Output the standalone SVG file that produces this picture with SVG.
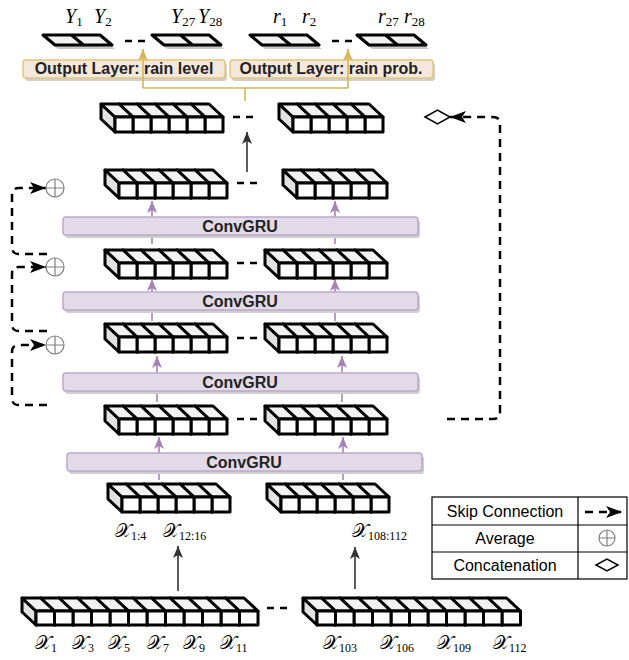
<svg xmlns="http://www.w3.org/2000/svg" width="629" height="660" viewBox="0 0 629 660">
<style>
.cs{fill:#e2e2e2;stroke:#000;stroke-width:3;stroke-linejoin:round}
.ct{fill:#f2f2f2;stroke:#000;stroke-width:3;stroke-linejoin:round}
.cf{fill:#fff;stroke:#000;stroke-width:3;stroke-linejoin:round}
.dash{fill:none;stroke:#000;stroke-width:2.5;stroke-dasharray:7 6}
.skip{fill:none;stroke:#000;stroke-width:2.5;stroke-dasharray:8 6}
.pa{fill:none;stroke:#a682b8;stroke-width:1.6;marker-end:url(#mp)}
.ba{fill:none;stroke:#333;stroke-width:1.6;marker-end:url(#mb)}
.ga{fill:none;stroke:#d6b656;stroke-width:1.6}
.bar{fill:#e2dae6;stroke:#bfa6cd;stroke-width:1.5}
.sh{fill:#cfcfcf}
.ob{fill:#f4e7dc;stroke:#e6c67a;stroke-width:1.5}
.lbl{font-family:"Liberation Sans",Arial,sans-serif;font-weight:bold;font-size:16px;fill:#222;text-anchor:middle}
.leg{font-family:"Liberation Sans",Arial,sans-serif;font-size:16px;fill:#000;text-anchor:middle}
.m{font-family:"Liberation Serif","DejaVu Serif",serif;font-size:19px;fill:#000}
.my{font-family:"Liberation Serif","DejaVu Serif",serif;font-size:20px;fill:#000}
.mi{font-style:italic}
.sub{font-size:12px;font-style:normal}
.sub2{font-size:13px;font-style:normal}
.av{fill:none;stroke:#808080;stroke-width:1.2}
.flat{fill:#f2f2f2;stroke:#000;stroke-width:3;stroke-linejoin:round}
.fsh{fill:#c8c8c8}
</style>
<defs>
<g id="cb">
<polygon class="cs" points="-14,-13 0,0 0,15 -14,2"/>
<polygon class="ct" points="-14,-13 4,-13 18,0 0,0"/>
<rect class="cf" x="0" y="0" width="18" height="15"/>
</g>
<g id="cb2">
<polygon class="cs" points="-14,-13 0,0 0,14 -14,1"/>
<polygon class="ct" points="-14,-13 4.5,-13 18.5,0 0,0"/>
<rect class="cf" x="0" y="0" width="18.5" height="14"/>
</g>
<marker id="mk" markerUnits="userSpaceOnUse" markerWidth="18" markerHeight="14" refX="16" refY="6" orient="auto" viewBox="0 0 18 14">
<path d="M0,0 L16,6 L0,12 L4,6 z" fill="#000"/>
</marker>
<marker id="mb" markerUnits="userSpaceOnUse" markerWidth="14" markerHeight="12" refX="12" refY="5" orient="auto" viewBox="0 0 14 12">
<path d="M0,0 L12,5 L0,10 L3,5 z" fill="#333"/>
</marker>
<marker id="mp" markerUnits="userSpaceOnUse" markerWidth="14" markerHeight="12" refX="12" refY="5" orient="auto" viewBox="0 0 14 12">
<path d="M0,0 L12,5 L0,10 L3,5 z" fill="#a682b8"/>
</marker>
<marker id="mg" markerUnits="userSpaceOnUse" markerWidth="14" markerHeight="12" refX="12" refY="5" orient="auto" viewBox="0 0 14 12">
<path d="M0,0 L12,5 L0,10 L3,5 z" fill="#d6b656"/>
</marker>
</defs>

<!-- output flat layers -->
<g id="out-Y">
<polygon class="fsh" points="46,39 103,39 115,49 58,49"/>
<polygon class="flat" points="43,35 100,35 112,45 55,45"/>
<line x1="71.5" y1="35" x2="83.5" y2="45" stroke="#000" stroke-width="3"/>
<polygon class="fsh" points="155,39 212,39 224,49 167,49"/>
<polygon class="flat" points="152,35 209,35 221,45 164,45"/>
<line x1="180.5" y1="35" x2="192.5" y2="45" stroke="#000" stroke-width="3"/>
<line class="dash" x1="125" y1="41" x2="147" y2="41"/>
<text class="my" x="65" y="23"><tspan class="mi">Y</tspan><tspan class="sub2" dy="3">1</tspan></text>
<text class="my" x="94" y="23"><tspan class="mi">Y</tspan><tspan class="sub2" dy="3">2</tspan></text>
<text class="my" x="171" y="23"><tspan class="mi">Y</tspan><tspan class="sub2" dy="3">27</tspan></text>
<text class="my" x="198" y="23"><tspan class="mi">Y</tspan><tspan class="sub2" dy="3">28</tspan></text>
</g>
<g id="out-r">
<polygon class="fsh" points="253,39 310,39 322,49 265,49"/>
<polygon class="flat" points="250,35 307,35 319,45 262,45"/>
<line x1="278.5" y1="35" x2="290.5" y2="45" stroke="#000" stroke-width="3"/>
<polygon class="fsh" points="360,39 417,39 429,49 372,49"/>
<polygon class="flat" points="357,35 414,35 426,45 369,45"/>
<line x1="385.5" y1="35" x2="397.5" y2="45" stroke="#000" stroke-width="3"/>
<line class="dash" x1="332" y1="41" x2="352" y2="41"/>
<text class="my" x="273" y="23"><tspan class="mi">r</tspan><tspan class="sub2" dy="3">1</tspan></text>
<text class="my" x="302" y="23"><tspan class="mi">r</tspan><tspan class="sub2" dy="3">2</tspan></text>
<text class="my" x="378" y="23"><tspan class="mi">r</tspan><tspan class="sub2" dy="3">27</tspan></text>
<text class="my" x="404" y="23"><tspan class="mi">r</tspan><tspan class="sub2" dy="3">28</tspan></text>
</g>

<!-- output layer boxes -->
<g id="outlayer-level">
<rect class="sh" x="25" y="63" width="202" height="18" rx="3"/>
<rect class="ob" x="23" y="60" width="202" height="18" rx="3"/>
<text class="lbl" x="124" y="74">Output Layer: rain level</text>
</g>
<g id="outlayer-prob">
<rect class="sh" x="232" y="63" width="203" height="18" rx="3"/>
<rect class="ob" x="230" y="60" width="203" height="18" rx="3"/>
<text class="lbl" x="331" y="74">Output Layer: rain prob.</text>
</g>

<!-- connectors -->
<g id="connectors">
<path class="ga" d="M245,101 V88"/>
<path class="ga" d="M143,88 H348"/>
<path class="ga" d="M143,88 V49" marker-end="url(#mg)"/>
<path class="ga" d="M348,88 V49" marker-end="url(#mg)"/>
<path class="ba" d="M247,172 V132"/>
<path class="ba" d="M178,591 V546"/>
<path class="ba" d="M355,589 V547"/>
<path class="pa" d="M152,244 V201"/>
<path class="pa" d="M335,244 V201"/>
<path class="pa" d="M152,321 V279"/>
<path class="pa" d="M335,321 V279"/>
<path class="pa" d="M157,402 V356"/>
<path class="pa" d="M342,402 V356"/>
<path class="pa" d="M159,480 V437"/>
<path class="pa" d="M343,480 V437"/>
<line class="dash" x1="233" y1="117" x2="253" y2="117"/>
<line class="dash" x1="237" y1="183" x2="258" y2="183"/>
<line class="dash" x1="237" y1="263" x2="258" y2="263"/>
<line class="dash" x1="237" y1="338" x2="258" y2="338"/>
<line class="dash" x1="237" y1="419" x2="258" y2="419"/>
<line class="dash" x1="267" y1="608" x2="288" y2="608"/>
<path class="skip" d="M47,254 H19 Q12,254 12,247 V195 Q12,188 19,188 H46" marker-end="url(#mk)"/>
<path class="skip" d="M47,331 H19 Q12,331 12,324 V274 Q12,267 19,267 H46" marker-end="url(#mk)"/>
<path class="skip" d="M47,405 H19 Q12,405 12,398 V352 Q12,345 19,345 H46" marker-end="url(#mk)"/>
<path class="skip" d="M447,419 H493 Q500,419 500,412 V124 Q500,117 493,117 H450" marker-end="url(#mk)"/>
</g>

<!-- ConvGRU bars -->
<g id="convgru-1"><rect class="sh" x="65" y="220" width="355" height="18" rx="3"/><rect class="bar" x="63" y="217" width="355" height="18" rx="3"/><text class="lbl" x="240" y="232">ConvGRU</text></g>
<g id="convgru-2"><rect class="sh" x="65" y="295" width="355" height="18" rx="3"/><rect class="bar" x="63" y="292" width="355" height="18" rx="3"/><text class="lbl" x="240" y="307">ConvGRU</text></g>
<g id="convgru-3"><rect class="sh" x="65" y="376" width="355" height="18" rx="3"/><rect class="bar" x="63" y="373" width="355" height="18" rx="3"/><text class="lbl" x="240" y="388">ConvGRU</text></g>
<g id="convgru-4"><rect class="sh" x="69" y="456" width="355" height="18" rx="3"/><rect class="bar" x="67" y="453" width="355" height="18" rx="3"/><text class="lbl" x="244" y="468">ConvGRU</text></g>

<!-- operators -->
<g id="avg-1"><circle class="av" cx="55" cy="188" r="9"/><path class="av" d="M46,188 H64 M55,179 V197"/></g>
<g id="avg-2"><circle class="av" cx="55" cy="267" r="9"/><path class="av" d="M46,267 H64 M55,258 V276"/></g>
<g id="avg-3"><circle class="av" cx="55" cy="345" r="9"/><path class="av" d="M46,345 H64 M55,336 V354"/></g>
<g id="concat"><polygon points="425,117 437.5,110 450,117 437.5,124" fill="#fff" stroke="#000" stroke-width="1.5"/></g>

<!-- cube rows -->
<g id="row1-left"><use href="#cb" x="205" y="117"/><use href="#cb" x="187" y="117"/><use href="#cb" x="169" y="117"/><use href="#cb" x="151" y="117"/><use href="#cb" x="133" y="117"/><use href="#cb" x="115" y="117"/></g>
<g id="row1-right"><use href="#cb" x="365" y="117"/><use href="#cb" x="347" y="117"/><use href="#cb" x="329" y="117"/><use href="#cb" x="311" y="117"/><use href="#cb" x="293" y="117"/></g>
<g id="row2-left"><use href="#cb" x="209" y="183"/><use href="#cb" x="191" y="183"/><use href="#cb" x="173" y="183"/><use href="#cb" x="155" y="183"/><use href="#cb" x="137" y="183"/><use href="#cb" x="119" y="183"/></g>
<g id="row2-right"><use href="#cb" x="369" y="183"/><use href="#cb" x="351" y="183"/><use href="#cb" x="333" y="183"/><use href="#cb" x="315" y="183"/><use href="#cb" x="297" y="183"/></g>
<g id="row3-left"><use href="#cb" x="209" y="263"/><use href="#cb" x="191" y="263"/><use href="#cb" x="173" y="263"/><use href="#cb" x="155" y="263"/><use href="#cb" x="137" y="263"/><use href="#cb" x="119" y="263"/></g>
<g id="row3-right"><use href="#cb" x="369" y="263"/><use href="#cb" x="351" y="263"/><use href="#cb" x="333" y="263"/><use href="#cb" x="315" y="263"/><use href="#cb" x="297" y="263"/><use href="#cb" x="279" y="263"/></g>
<g id="row4-left"><use href="#cb" x="209" y="337"/><use href="#cb" x="191" y="337"/><use href="#cb" x="173" y="337"/><use href="#cb" x="155" y="337"/><use href="#cb" x="137" y="337"/><use href="#cb" x="119" y="337"/></g>
<g id="row4-right"><use href="#cb" x="369" y="337"/><use href="#cb" x="351" y="337"/><use href="#cb" x="333" y="337"/><use href="#cb" x="315" y="337"/><use href="#cb" x="297" y="337"/><use href="#cb" x="279" y="337"/></g>
<g id="row5-left"><use href="#cb" x="209" y="419"/><use href="#cb" x="191" y="419"/><use href="#cb" x="173" y="419"/><use href="#cb" x="155" y="419"/><use href="#cb" x="137" y="419"/><use href="#cb" x="119" y="419"/></g>
<g id="row5-right"><use href="#cb" x="369" y="419"/><use href="#cb" x="351" y="419"/><use href="#cb" x="333" y="419"/><use href="#cb" x="315" y="419"/><use href="#cb" x="297" y="419"/><use href="#cb" x="279" y="419"/></g>
<g id="row6-left"><use href="#cb" x="212" y="497"/><use href="#cb" x="194" y="497"/><use href="#cb" x="176" y="497"/><use href="#cb" x="158" y="497"/><use href="#cb" x="140" y="497"/><use href="#cb" x="122" y="497"/></g>
<g id="row6-right"><use href="#cb" x="371" y="497"/><use href="#cb" x="353" y="497"/><use href="#cb" x="335" y="497"/><use href="#cb" x="317" y="497"/><use href="#cb" x="299" y="497"/><use href="#cb" x="281" y="497"/></g>
<g id="input-left"><use href="#cb2" x="239.5" y="611"/><use href="#cb2" x="221" y="611"/><use href="#cb2" x="202.5" y="611"/><use href="#cb2" x="184" y="611"/><use href="#cb2" x="165.5" y="611"/><use href="#cb2" x="147" y="611"/><use href="#cb2" x="128.5" y="611"/><use href="#cb2" x="110" y="611"/><use href="#cb2" x="91.5" y="611"/><use href="#cb2" x="73" y="611"/><use href="#cb2" x="54.5" y="611"/><use href="#cb2" x="36" y="611"/></g>
<g id="input-right"><use href="#cb2" x="502" y="611"/><use href="#cb2" x="483.5" y="611"/><use href="#cb2" x="465" y="611"/><use href="#cb2" x="446.5" y="611"/><use href="#cb2" x="428" y="611"/><use href="#cb2" x="409.5" y="611"/><use href="#cb2" x="391" y="611"/><use href="#cb2" x="372.5" y="611"/><use href="#cb2" x="354" y="611"/><use href="#cb2" x="335.5" y="611"/><use href="#cb2" x="317" y="611"/></g>

<!-- math labels -->
<g id="labels">
<text class="m" x="115" y="537">𝒳<tspan class="sub" dy="3">1:4</tspan></text>
<text class="m" x="163" y="537">𝒳<tspan class="sub" dy="3">12:16</tspan></text>
<text class="m" x="352" y="537">𝒳<tspan class="sub" dy="3">108:112</tspan></text>
<text class="m" x="35" y="649">𝒳<tspan class="sub" dy="3">1</tspan></text>
<text class="m" x="72" y="649">𝒳<tspan class="sub" dy="3">3</tspan></text>
<text class="m" x="108" y="649">𝒳<tspan class="sub" dy="3">5</tspan></text>
<text class="m" x="147" y="649">𝒳<tspan class="sub" dy="3">7</tspan></text>
<text class="m" x="183" y="649">𝒳<tspan class="sub" dy="3">9</tspan></text>
<text class="m" x="220" y="649">𝒳<tspan class="sub" dy="3">11</tspan></text>
<text class="m" x="323" y="649">𝒳<tspan class="sub" dy="3">103</tspan></text>
<text class="m" x="380" y="649">𝒳<tspan class="sub" dy="3">106</tspan></text>
<text class="m" x="437" y="649">𝒳<tspan class="sub" dy="3">109</tspan></text>
<text class="m" x="493" y="649">𝒳<tspan class="sub" dy="3">112</tspan></text>
</g>

<!-- legend -->
<g id="legend">
<rect x="432" y="497" width="195" height="82" fill="#fff" stroke="#000" stroke-width="1.2"/>
<path d="M432,525 H627 M432,552 H627 M578,497 V579" stroke="#000" stroke-width="1.2" fill="none"/>
<text class="leg" x="505" y="517">Skip Connection</text>
<text class="leg" x="505" y="544">Average</text>
<text class="leg" x="505" y="571">Concatenation</text>
<path class="skip" d="M585,512 H622" marker-end="url(#mk)"/>
<circle class="av" cx="607" cy="538" r="8"/><path class="av" d="M599,538 H615 M607,530 V546"/>
<polygon points="596,565 607,559 618,565 607,571" fill="#fff" stroke="#000" stroke-width="1.5"/>
</g>
</svg>
